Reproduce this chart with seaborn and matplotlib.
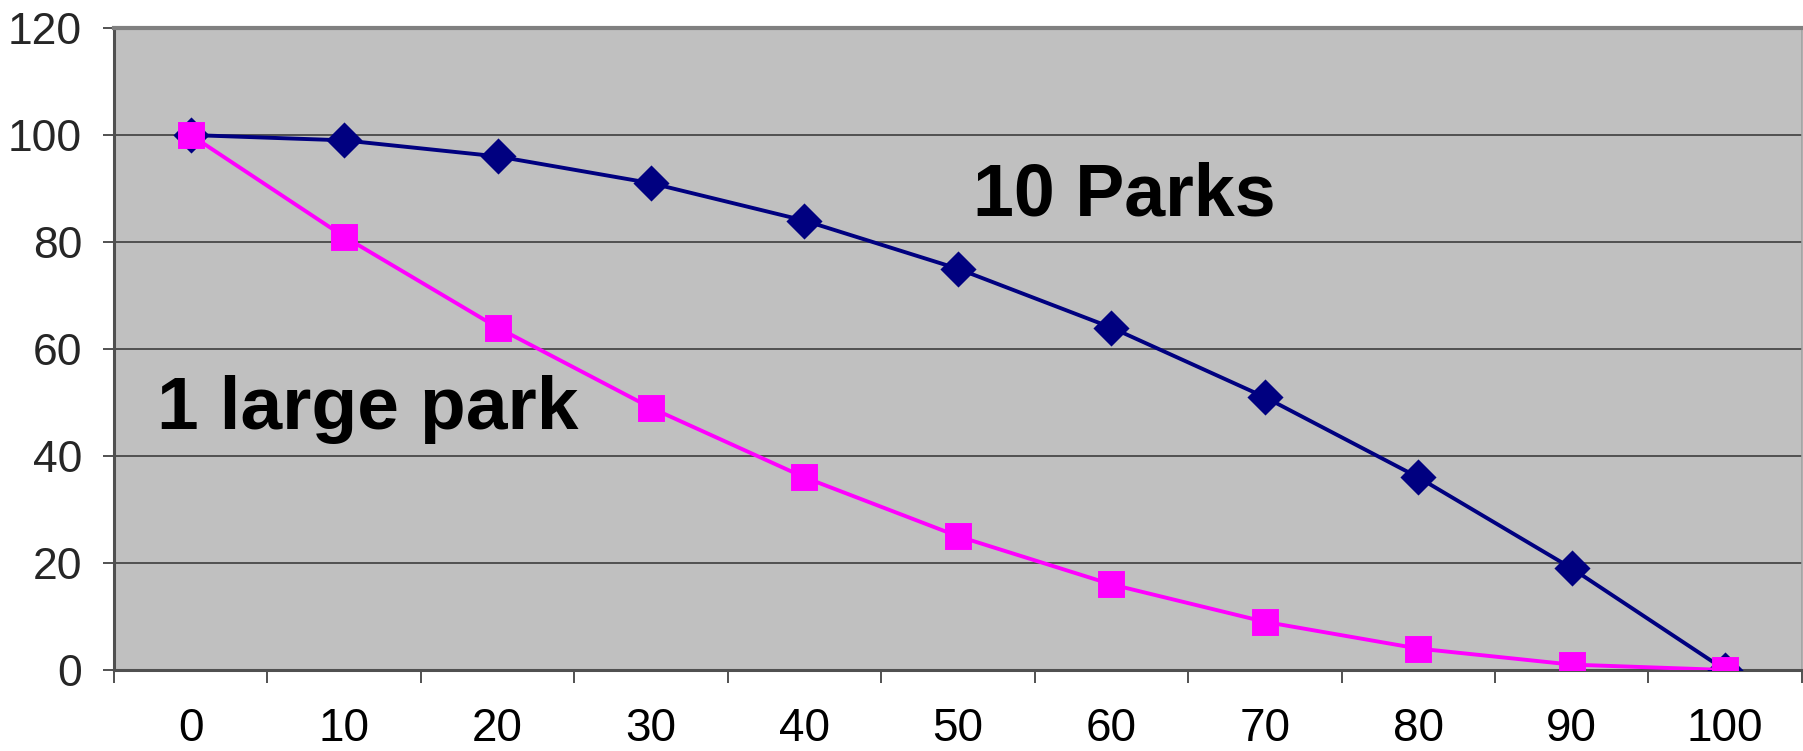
"""
Park population decline: 10 parks vs 1 large park (Excel-style line chart)
"""
import pandas as pd
import matplotlib
matplotlib.use("Agg")
import matplotlib.pyplot as plt
import seaborn as sns

# ── data ─────────────────────────────────────────────────────────────────────
categories = ["0", "10", "20", "30", "40", "50", "60", "70", "80", "90", "100"]
ten_parks = [100, 99, 96, 91, 84, 75, 64, 51, 36, 19, 0]
one_large_park = [100, 81, 64, 49, 36, 25, 16, 9, 4, 1, 0]
y_ticks = [0, 20, 40, 60, 80, 100, 120]

df = pd.DataFrame({"x": categories, "ten": ten_parks, "one": one_large_park})

sns.set_theme(style="white")
plt.rcParams["font.family"] = ["Liberation Sans", "DejaVu Sans"]

fig = plt.figure(figsize=(18.03, 7.51), dpi=100)
ax = fig.add_axes([0.0632, 0.1079, 0.9362, 0.8548])
ax.set_facecolor("#C0C0C0")

sns.pointplot(data=df, x="x", y="ten", color="#000080", marker="D",
              markersize=16, linewidth=2.8, errorbar=None, ax=ax, zorder=3)
sns.pointplot(data=df, x="x", y="one", color="#FF00FF", marker="s",
              markersize=17, linewidth=2.8, errorbar=None, ax=ax, zorder=4)

ax.set_ylim(0, 120)
ax.set_xlim(-0.5, len(categories) - 0.5)
ax.set_yticks(y_ticks)
ax.set_yticklabels([str(v) for v in y_ticks])
ax.set_xticks(range(len(categories)))
ax.set_xticklabels(categories)
ax.set_xticks([i - 0.5 for i in range(len(categories) + 1)], minor=True)
ax.set_xlabel("")
ax.set_ylabel("")

ax.tick_params(axis="x", which="major", length=0, pad=27, labelsize=33, colors="black")
ax.tick_params(axis="x", which="minor", length=9, width=1.2, color="#333333",
               direction="out", bottom=True)
ax.tick_params(axis="y", length=8, width=1.2, color="#333333", pad=15,
               labelsize=32, left=True, direction="out")

ax.yaxis.grid(True, color="#505050", linewidth=1.4)
ax.xaxis.grid(False)
ax.set_axisbelow(True)

for side, col, lw in [("left", "#505050", 2.2), ("bottom", "#505050", 2.2),
                      ("top", "#808080", 3.0), ("right", "#A0A0A0", 1.2)]:
    ax.spines[side].set_visible(True)
    ax.spines[side].set_color(col)
    ax.spines[side].set_linewidth(lw)

ax.text(5.10, 84.9, "10 Parks", fontsize=53, fontweight="bold", color="black",
        ha="left", va="baseline")
ax.text(-0.22, 45.0, "1 large park", fontsize=54, fontweight="bold", color="black",
        ha="left", va="baseline")

plt.savefig("out.png", dpi=100)
plt.close()
print("Saved: out.png")
